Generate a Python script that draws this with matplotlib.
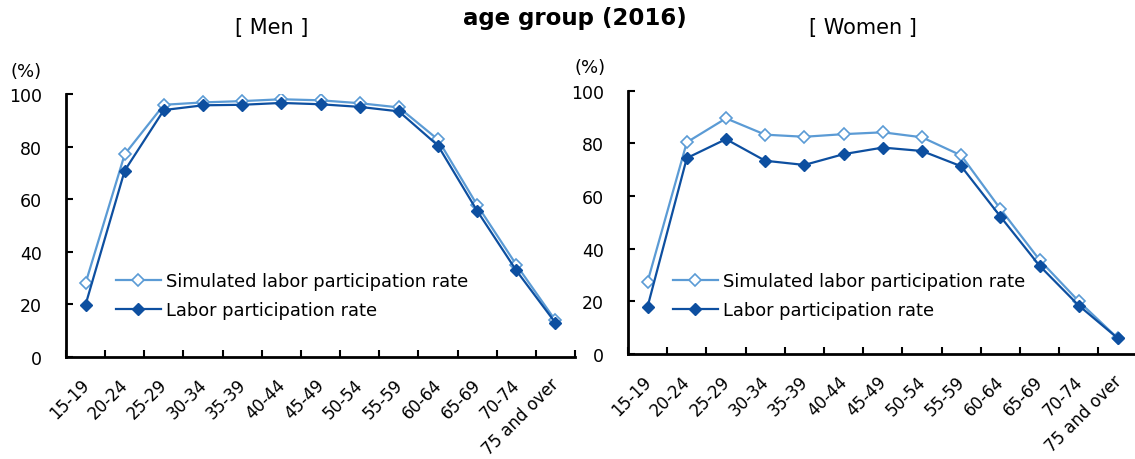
import matplotlib
matplotlib.use("Agg")
import matplotlib.pyplot as plt
from matplotlib.transforms import ScaledTranslation
import numpy as np

plt.rcParams['font.family'] = ['DejaVu Sans']

age_groups = ["15-19", "20-24", "25-29", "30-34", "35-39", "40-44", "45-49",
              "50-54", "55-59", "60-64", "65-69", "70-74", "75 and over"]

men_simulated = [28.1, 77.1, 95.9, 96.8, 97.3, 98.0, 97.6, 96.5, 94.9, 82.7, 57.8, 35.1, 13.9]
men_actual = [19.9, 70.9, 93.9, 95.7, 95.9, 96.6, 96.1, 95.1, 93.4, 80.4, 55.6, 32.9, 13.0]

women_simulated = [27.5, 80.4, 89.5, 83.3, 82.5, 83.5, 84.2, 82.3, 75.4, 55.1, 35.7, 20.0, 5.9]
women_actual = [18.0, 74.4, 81.6, 73.4, 71.8, 75.9, 78.4, 77.1, 71.3, 52.2, 33.5, 18.4, 5.9]

yticks = [0, 20, 40, 60, 80, 100]
label_sim = "Simulated labor participation rate"
label_act = "Labor participation rate"
title = "age group (2016)"
panel_titles = ["[ Men ]", "[ Women ]"]

c_sim = "#5b9bd5"
c_act = "#0d4fa0"

fig = plt.figure(figsize=(11.35, 4.6), dpi=100)

axes_rects = [
    [66 / 1135, 1 - 358 / 460, 509 / 1135, (358 - 95) / 460],
    [628 / 1135, 1 - 355 / 460, 509.6 / 1135, (355 - 91.7) / 460],
]
legend_anchor = [(0.098, 0.322), (0.088, 0.31)]
pct_pos = [(26 / 1135, 1 - 72 / 460), (590 / 1135, 1 - 68 / 460)]
ptitle_pos = [(272 / 1135, 1 - 28 / 460), (863 / 1135, 1 - 28 / 460)]

data = [(men_simulated, men_actual), (women_simulated, women_actual)]
x = np.arange(len(age_groups))

for i, (sim, act) in enumerate(data):
    ax = fig.add_axes(axes_rects[i])
    ax.plot(x, sim, color=c_sim, lw=1.6, marker='D', markersize=6.5,
            markerfacecolor='white', markeredgecolor=c_sim, markeredgewidth=1.2,
            label=label_sim, zorder=3)
    ax.plot(x, act, color=c_act, lw=1.6, marker='D', markersize=6.5,
            markerfacecolor=c_act, markeredgecolor=c_act,
            label=label_act, zorder=4)
    ax.set_xlim(-0.5, len(age_groups) - 0.5)
    ax.set_ylim(0, 100)
    ax.set_yticks(yticks)
    ax.tick_params(axis='y', direction='in', length=5, width=1.5, pad=17.5, labelsize=12.5)
    ax.set_xticks(x)
    ax.set_xticklabels(age_groups, rotation=45, ha='right', rotation_mode='anchor', fontsize=12)
    ax.tick_params(axis='x', which='major', length=0, pad=13)
    for lbl in ax.get_xticklabels():
        lbl.set_transform(lbl.get_transform() + ScaledTranslation(-4 / 72, 0, fig.dpi_scale_trans))
    ax.set_xticks(np.arange(-0.5, len(age_groups) + 0.5, 1), minor=True)
    ax.tick_params(axis='x', which='minor', direction='in', length=5, width=1.5)
    for s in ['top', 'right']:
        ax.spines[s].set_visible(False)
    for s in ['left', 'bottom']:
        ax.spines[s].set_linewidth(2)
        ax.spines[s].set_color('black')
    ax.patch.set_alpha(0)
    ax.legend(loc='upper left', bbox_to_anchor=legend_anchor[i], frameon=False,
              fontsize=12.9, handlelength=2.5, handletextpad=0.32, labelspacing=0.6,
              borderpad=0, borderaxespad=0)
    fig.text(*pct_pos[i], "(%)", fontsize=13, ha='center', va='center')
    fig.text(*ptitle_pos[i], panel_titles[i], fontsize=15, ha='center', va='center')

fig.text(575 / 1135, 1 - 19 / 460, title, fontsize=16.5, fontweight='bold', ha='center', va='center')

fig.savefig("out.png", dpi=100)
